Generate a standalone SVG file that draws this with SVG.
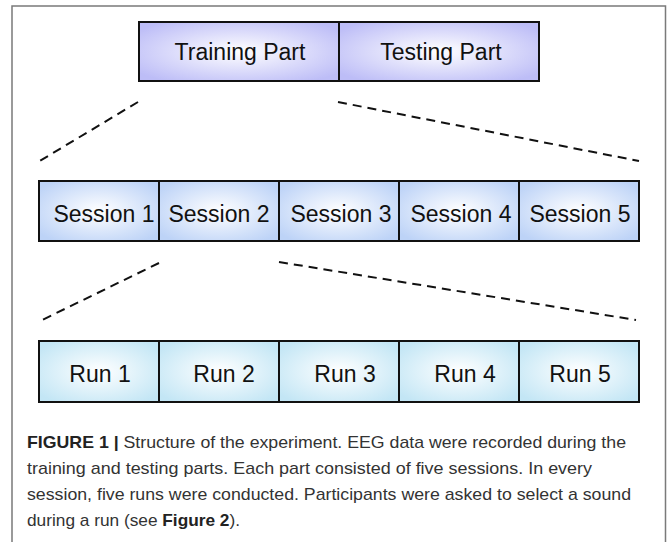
<svg xmlns="http://www.w3.org/2000/svg" width="667" height="542" viewBox="0 0 667 542">
<defs>
<radialGradient id="gTop" cx="0.5" cy="0.5" r="0.62">
<stop offset="0" stop-color="#ffffff"/>
<stop offset="1" stop-color="#bdbdf7"/>
</radialGradient>
<radialGradient id="gSes" cx="0.5" cy="0.5" r="0.62">
<stop offset="0" stop-color="#ffffff"/>
<stop offset="1" stop-color="#bdd3f7"/>
</radialGradient>
<radialGradient id="gRun" cx="0.5" cy="0.5" r="0.62">
<stop offset="0" stop-color="#ffffff"/>
<stop offset="1" stop-color="#c3e6f5"/>
</radialGradient>
<style>
.box{stroke:#111;stroke-width:2}
.top{fill:url(#gTop)}
.ses{fill:url(#gSes)}
.run{fill:url(#gRun)}
.lbl{font-family:"Liberation Sans",Arial,sans-serif;font-size:23px;fill:#111;text-anchor:middle}
.dash{stroke:#111;stroke-width:2;stroke-dasharray:9 6;fill:none}
.cap{font-family:"Liberation Sans",Arial,sans-serif;font-size:17px;fill:#333}
.b{font-weight:bold;fill:#222}
</style>
</defs>
<rect x="0" y="0" width="667" height="542" fill="#ffffff"/>
<path d="M12,542 V6 H665.5 V542" fill="none" stroke="#7a7a7a" stroke-width="1.5"/>

<g id="connectors">
<line class="dash" x1="138" y1="102" x2="38" y2="162"/>
<line class="dash" x1="338" y1="102" x2="639" y2="161"/>
<line class="dash" x1="159" y1="263" x2="38" y2="322"/>
<line class="dash" x1="279" y1="262" x2="636" y2="320"/>
</g>

<g id="training-part"><rect class="box top" x="139" y="22" width="200" height="59"/><text class="lbl" x="240" y="60">Training Part</text></g>
<g id="testing-part"><rect class="box top" x="339" y="22" width="200" height="59"/><text class="lbl" x="441" y="60">Testing Part</text></g>

<g id="session-1"><rect class="box ses" x="39" y="181" width="120" height="60"/><text class="lbl" x="104" y="222">Session 1</text></g>
<g id="session-2"><rect class="box ses" x="159" y="181" width="120" height="60"/><text class="lbl" x="219" y="222">Session 2</text></g>
<g id="session-3"><rect class="box ses" x="279" y="181" width="120" height="60"/><text class="lbl" x="341" y="222">Session 3</text></g>
<g id="session-4"><rect class="box ses" x="399" y="181" width="120" height="60"/><text class="lbl" x="461" y="222">Session 4</text></g>
<g id="session-5"><rect class="box ses" x="519" y="181" width="120" height="60"/><text class="lbl" x="580" y="222">Session 5</text></g>

<g id="run-1"><rect class="box run" x="39" y="341" width="120" height="61"/><text class="lbl" x="100" y="382">Run 1</text></g>
<g id="run-2"><rect class="box run" x="159" y="341" width="120" height="61"/><text class="lbl" x="224" y="382">Run 2</text></g>
<g id="run-3"><rect class="box run" x="279" y="341" width="120" height="61"/><text class="lbl" x="345" y="382">Run 3</text></g>
<g id="run-4"><rect class="box run" x="399" y="341" width="120" height="61"/><text class="lbl" x="465" y="382">Run 4</text></g>
<g id="run-5"><rect class="box run" x="519" y="341" width="120" height="61"/><text class="lbl" x="580" y="382">Run 5</text></g>

<g id="caption">
<text class="cap" x="27" y="448" textLength="599" lengthAdjust="spacingAndGlyphs"><tspan class="b">FIGURE 1 |</tspan> Structure of the experiment. EEG data were recorded during the</text>
<text class="cap" x="27" y="474" textLength="565" lengthAdjust="spacingAndGlyphs">training and testing parts. Each part consisted of five sessions. In every</text>
<text class="cap" x="27" y="500" textLength="604" lengthAdjust="spacingAndGlyphs">session, five runs were conducted. Participants were asked to select a sound</text>
<text class="cap" x="27" y="526" textLength="213" lengthAdjust="spacingAndGlyphs">during a run (see <tspan class="b">Figure 2</tspan>).</text>
</g>
</svg>
